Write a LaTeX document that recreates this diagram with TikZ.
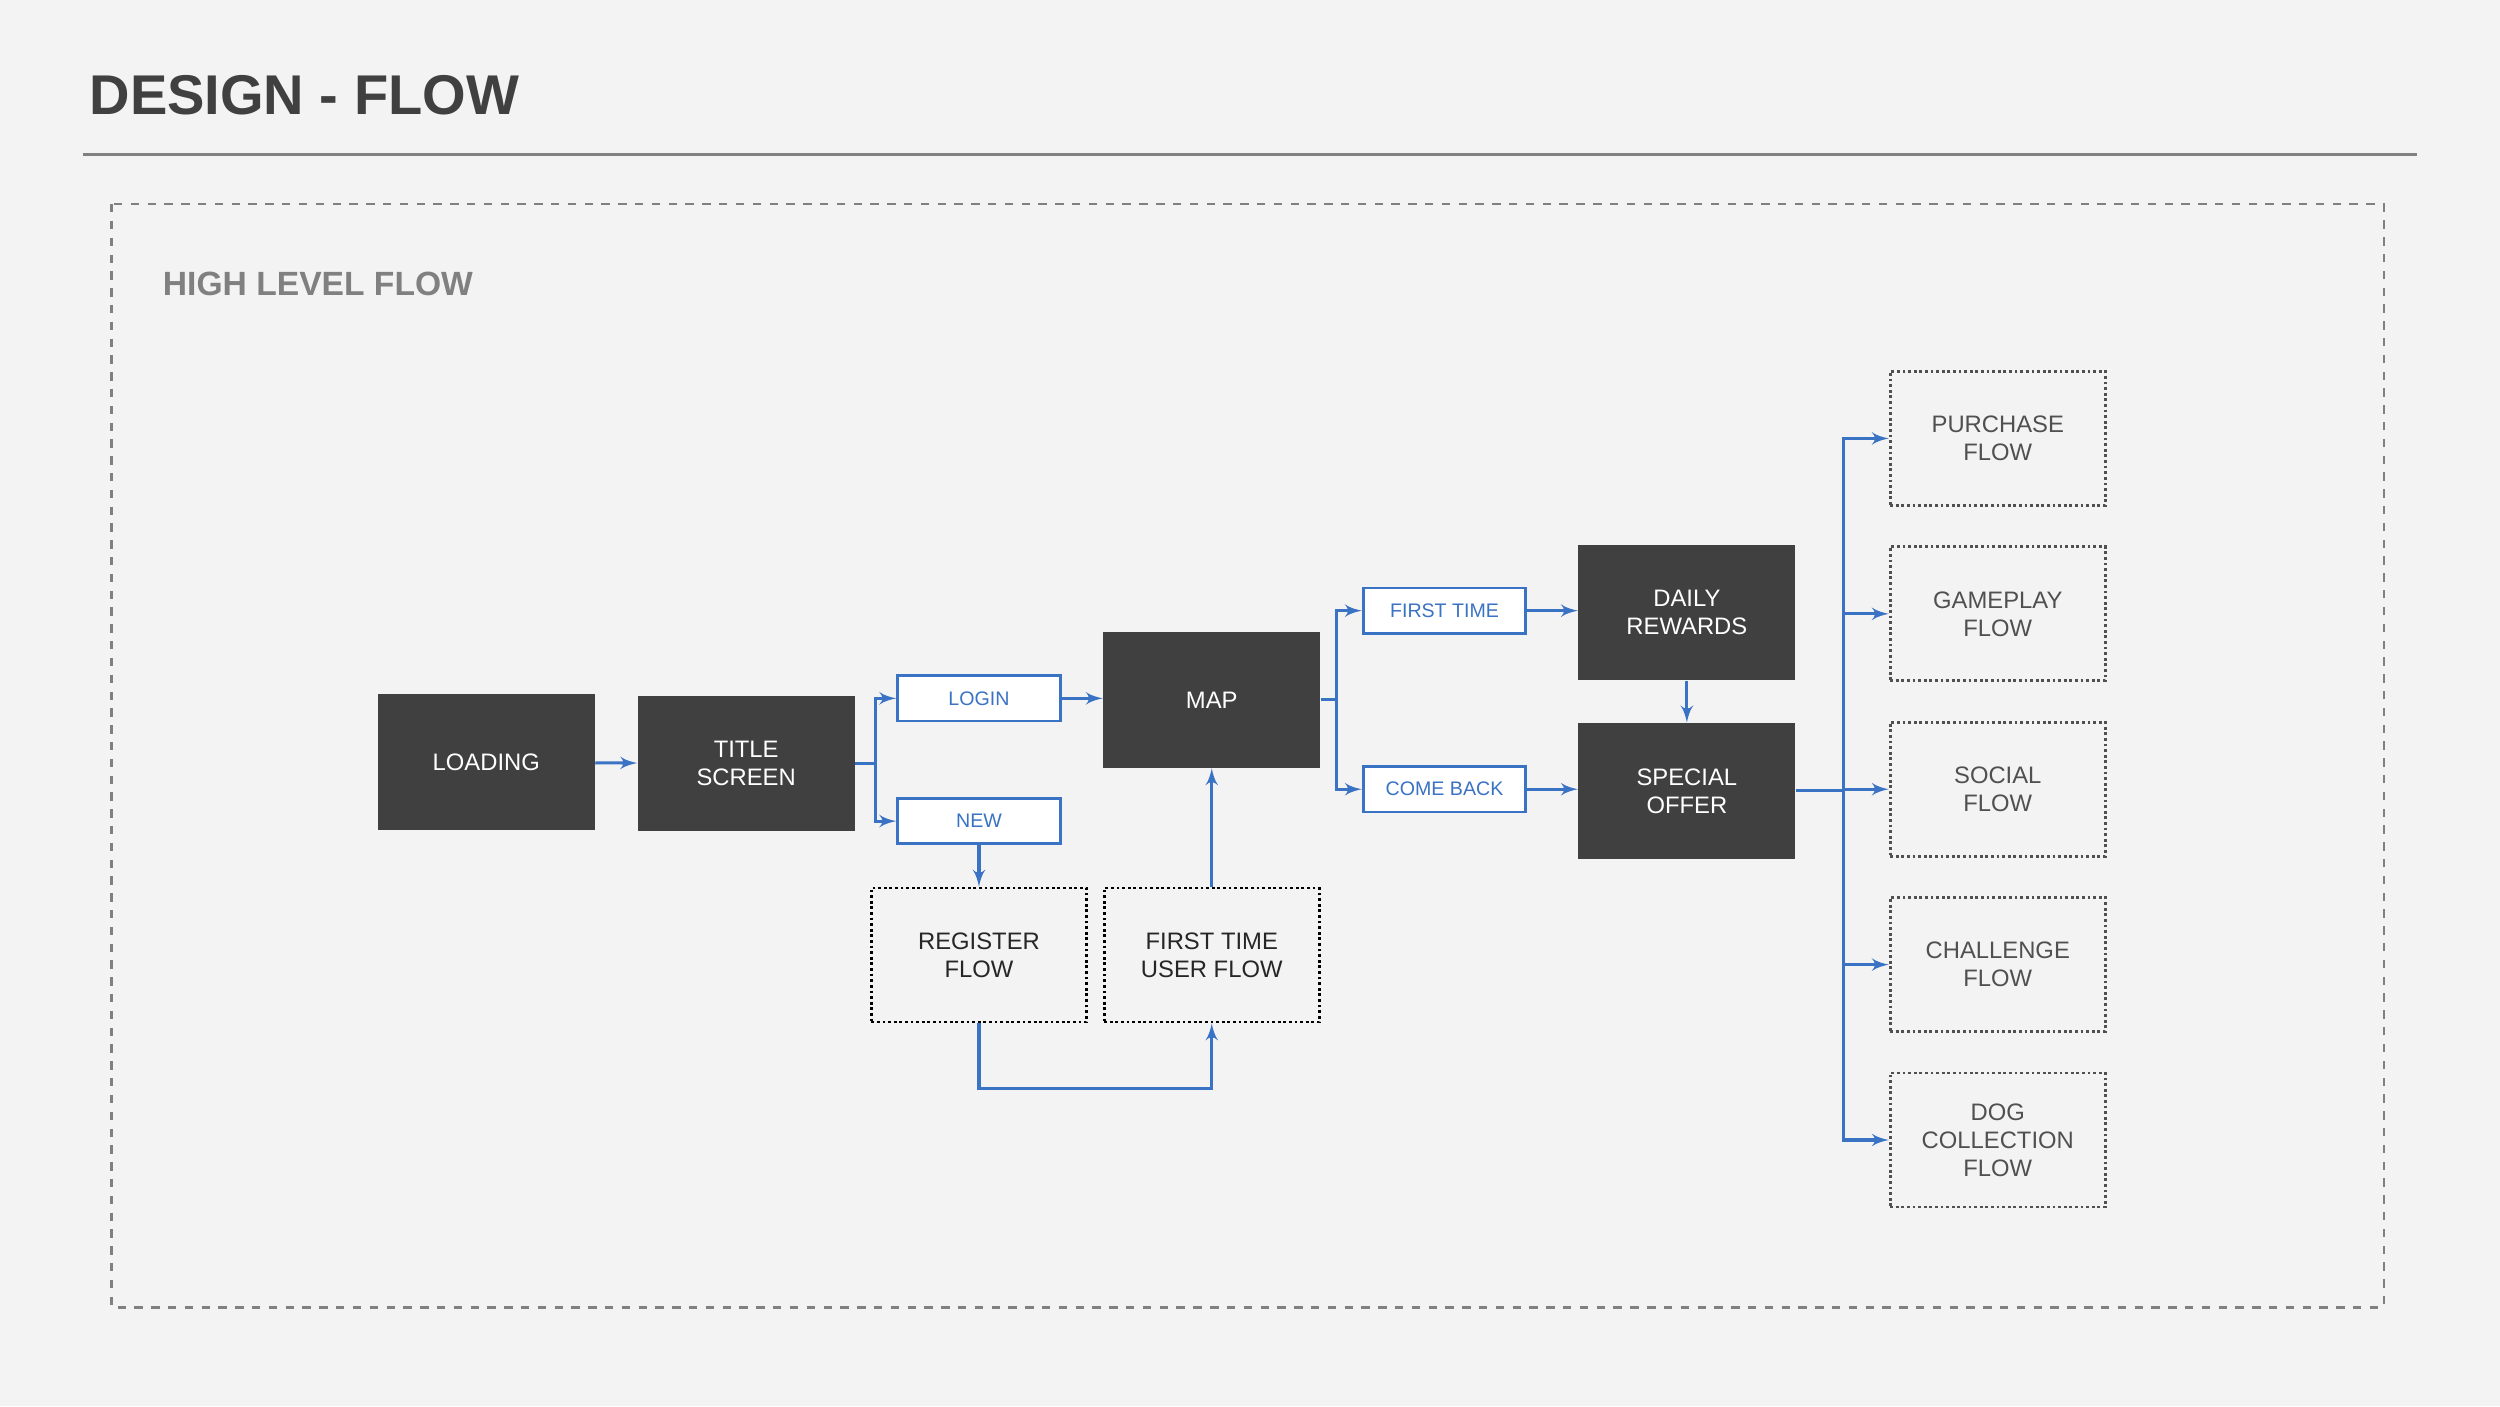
\documentclass[tikz,border=0pt]{standalone}
\usepackage{fontspec}
\setmainfont{Liberation Sans}
\usepackage{tikz}
\usetikzlibrary{arrows,positioning,shapes.geometric}
\definecolor{bgpage}{HTML}{F3F3F3}
\definecolor{darkbox}{HTML}{404040}
\definecolor{flowblue}{HTML}{3A72C4}
\definecolor{textgray}{HTML}{505050}
\begin{document}
\begin{tikzpicture}[
    x=0.02cm, y=-0.02cm,
    >=latex',
    font=\fontsize{8.5}{10}\selectfont,
    screen/.style={
		rectangle,
		fill=darkbox,
		text=white,
		align=center,
		minimum width=2.72cm,
		minimum height=1.7cm,
		inner sep=0pt
	},
	tag/.style={
		rectangle,
		draw=flowblue,
		line width=1pt,
		fill=white,
		text=flowblue,
		font=\fontsize{7}{8}\selectfont,
		minimum width=2.04cm,
		minimum height=0.57cm,
		inner sep=0pt
	},
	subflow/.style={
		rectangle,
		draw=black,
		densely dotted,
		line width=1pt,
		text=black!85,
		align=center,
		minimum width=2.7cm,
		minimum height=1.68cm,
		inner sep=0pt
	},
	extflow/.style={
		subflow,
		draw=textgray,
		text=textgray
	},
	link/.style={
		draw=flowblue,
		line width=1.1pt,
		->
	}
  ]
  % page, title and frame
  \fill [bgpage] (0,0) rectangle (1568,882);
  \node [anchor=west, text=darkbox, font=\fontsize{20}{24}\selectfont\bfseries] (title) at (50,60) {DESIGN - FLOW};
  \draw [gray, line width=1pt] (52,97) -- (1516,97);
  \draw [gray, dashed, line width=0.8pt] (70,128) rectangle (1495,820);
  \node [anchor=west, text=gray, font=\fontsize{12}{14}\selectfont\bfseries] (section) at (96,178) {HIGH LEVEL FLOW};

  % main screens
  \node [screen] (loading) at (305,478) {LOADING};
  \node [screen] (titlescr) at (468,479) {TITLE\\SCREEN};
  \node [screen] (map) at (760,439) {MAP};
  \node [screen] (daily) at (1058,384) {DAILY\\REWARDS};
  \node [screen] (special) at (1058,496) {SPECIAL\\OFFER};

  % branch tags
  \node [tag] (login) at (614,438) {LOGIN};
  \node [tag] (new) at (614,515) {NEW};
  \node [tag] (firsttime) at (906,383) {FIRST TIME};
  \node [tag] (comeback) at (906,495) {COME BACK};

  % sub flows
  \node [subflow] (register) at (614,599) {REGISTER\\FLOW};
  \node [subflow] (ftue) at (760,599) {FIRST TIME\\USER FLOW};

  % outgoing flows
  \node [extflow] (purchase) at (1253,275) {PURCHASE\\FLOW};
  \node [extflow] (gameplay) at (1253,385) {GAMEPLAY\\FLOW};
  \node [extflow] (social) at (1253,495) {SOCIAL\\FLOW};
  \node [extflow] (challenge) at (1253,605) {CHALLENGE\\FLOW};
  \node [extflow] (dog) at (1253,715) {DOG\\COLLECTION\\FLOW};

  \draw [link] (loading) -- (titlescr);
  \draw [link] (titlescr.east) -- ++(13,0) |- (login.west);
  \draw [link] (titlescr.east) -- ++(13,0) |- (new.west);
  \draw [link] (login) -- (map.west |- login);
  \draw [link] (new) -- (register);
  \draw [link] (register.south) -- ++(0,41) -| (ftue.south);
  \draw [link] (ftue) -- (map);
  \draw [link] (map.east) -- ++(10,0) |- (firsttime.west);
  \draw [link] (map.east) -- ++(10,0) |- (comeback.west);
  \draw [link] (firsttime) -- (daily.west |- firsttime);
  \draw [link] (comeback) -- (special.west |- comeback);
  \draw [link] (daily) -- (special);
  \foreach \target in {purchase,gameplay,social,challenge,dog}
    \draw [link] (special.east) -- ++(30,0) |- (\target.west);
\end{tikzpicture}
\end{document}
